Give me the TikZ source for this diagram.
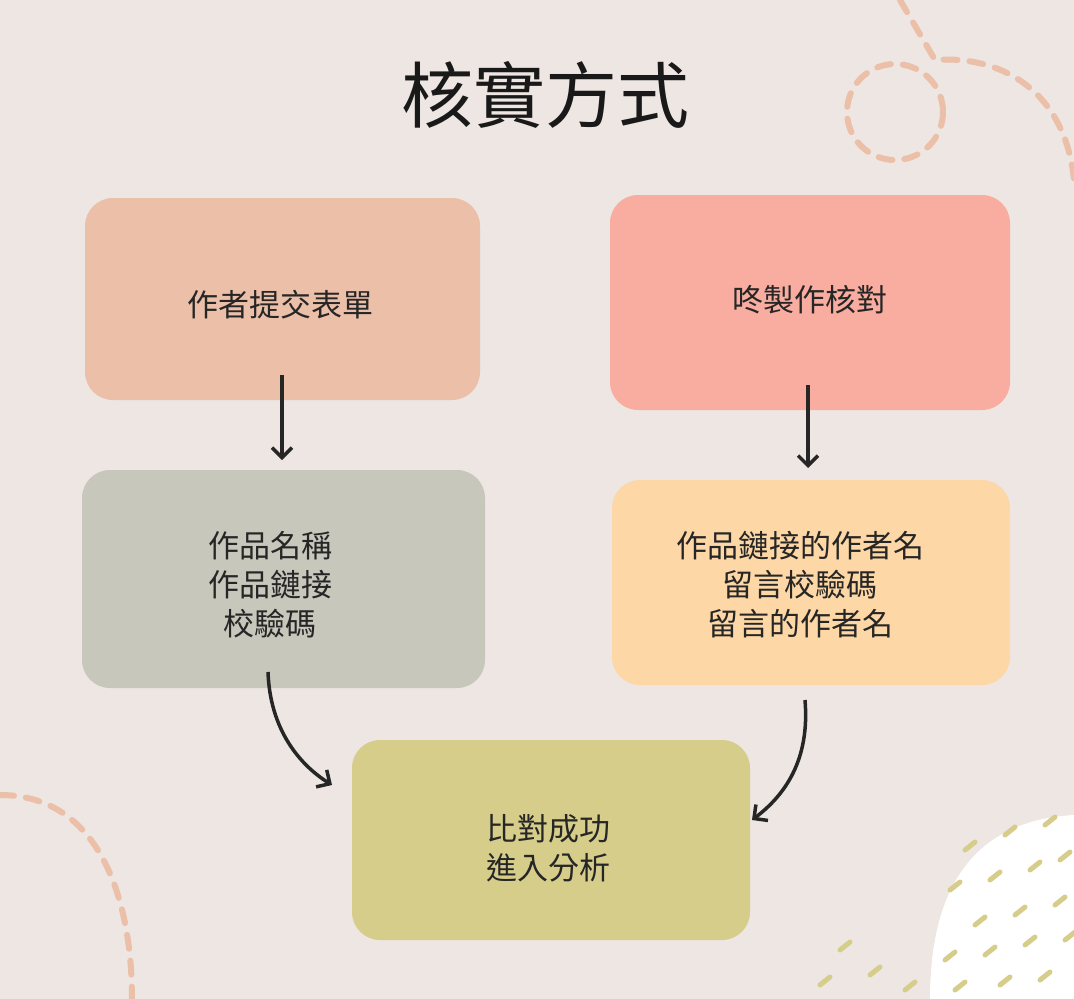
\documentclass[tikz,border=0pt]{standalone}
\usepackage{fontspec}
\setmainfont{Noto Sans CJK TC}
\begin{document}
\begin{tikzpicture}[x=1pt,y=-1pt,
  blob/.style={rounded corners=28pt},
  lbl/.style={align=center,font=\fontsize{31}{39}\selectfont,text=black!85},
  arr/.style={line width=3.5pt,draw=black!85,-{Straight Barb[length=10pt,width=20pt,line width=3.5pt]}},
  deco/.style={line width=6pt,draw=bpeach,dash pattern=on 14pt off 12pt,line cap=round}]
\usetikzlibrary{arrows.meta}
\definecolor{bg}{HTML}{EDE6E2}
\definecolor{bpeach}{HTML}{EBBFA8}
\definecolor{bpink}{HTML}{F9ADA0}
\definecolor{bgray}{HTML}{C7C7BC}
\definecolor{borange}{HTML}{FDD7A5}
\definecolor{bolive}{HTML}{D6CD8A}
\fill[bg] (0,0) rectangle (1074,999);
\useasboundingbox (0,0) rectangle (1074,999);
% decorations
\draw[deco] (895,112) circle (48);
\draw[deco] (900,0) -- (935,60) .. controls (1000,55) and (1065,90) .. (1074,180);
\draw[deco] (0,795) .. controls (100,795) and (132,900) .. (132,999);
\fill[white] (930,999) .. controls (930,880) and (980,820) .. (1074,815) -- (1074,999) -- cycle;
\foreach \x/\y in {965/850,1005/835,1045/825,950/890,990/880,1030/870,1060/860,975/925,1015/915,1055/905,945/960,985/955,1025/945,1065/940,905/990,955/990,1000/985,1040/980,840/950,870/975,820/985}
  \draw[bolive,line width=5pt,line cap=round] (\x,\y) -- ++(10,-8);
% title
\node[font=\fontsize{72}{80}\selectfont,text=black!90] (title) at (545,95) {核實方式};
% boxes
\fill[bpeach,blob] (85,198) rectangle (480,400);
\fill[bpink,blob] (610,195) rectangle (1010,410);
\fill[bgray,blob] (82,470) rectangle (485,688);
\fill[borange,blob] (612,480) rectangle (1010,685);
\fill[bolive,blob] (352,740) rectangle (750,940);
\node[lbl] (a) at (280,305) {作者提交表單};
\node[lbl] (b) at (810,300) {咚製作核對};
\node[lbl] (c) at (270,585) {作品名稱\\作品鏈接\\校驗碼};
\node[lbl] (d) at (800,585) {作品鏈接的作者名\\留言校驗碼\\留言的作者名};
\node[lbl] (e) at (548,848) {比對成功\\進入分析};
\coordinate (a1) at (282,375); \coordinate (a2) at (282,460);
\coordinate (b1) at (808,385); \coordinate (b2) at (808,468);
\coordinate (c1) at (268,672); \coordinate (c2) at (332,785);
\coordinate (d1) at (805,700); \coordinate (d2) at (752,820);
\draw[arr] (a1) -- (a2);
\draw[arr] (b1) -- (b2);
\draw[arr] (c1) .. controls (270,730) and (300,765) .. (c2);
\draw[arr] (d1) .. controls (810,760) and (785,795) .. (d2);
\end{tikzpicture}
\end{document}
